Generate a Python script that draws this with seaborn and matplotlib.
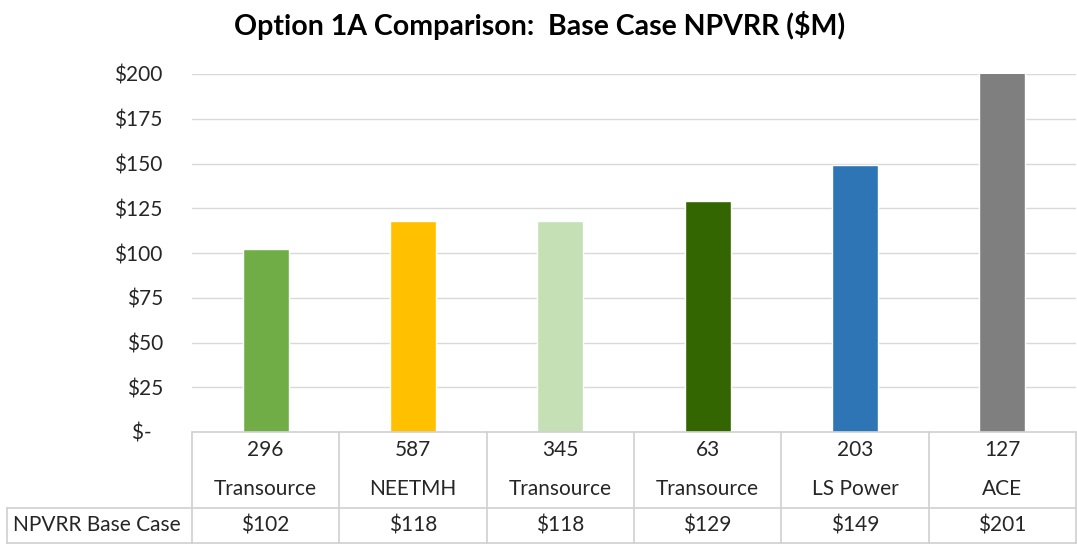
import matplotlib
matplotlib.use("Agg")
import matplotlib.pyplot as plt
import seaborn as sns
import pandas as pd

# values
options = ["296", "587", "345", "63", "203", "127"]
owners = ["Transource", "NEETMH", "Transource", "Transource", "LS Power", "ACE"]
npvrr = [102, 118, 118, 129, 149, 201]
bar_colors = ["#70AD47", "#FFC000", "#C5E0B4", "#336600", "#2E75B6", "#7F7F7F"]
yticks = [0, 25, 50, 75, 100, 125, 150, 175, 200]

df = pd.DataFrame({"label": [f"{o}\n{w}" for o, w in zip(options, owners)],
                   "npvrr": npvrr})

sns.set_theme(style="white")
plt.rcParams["font.family"] = ["Lato", "DejaVu Sans"]
txt = "#262626"
grid = "#D9D9D9"
fs = 15

fig = plt.figure(figsize=(10.77, 5.44), dpi=100)
W, H = 1077, 544
ax = fig.add_axes([192 / W, (H - 432) / H, (1076 - 192) / W, (432 - 74) / H])

sns.barplot(data=df, x="label", y="npvrr", hue="label", palette=bar_colors,
            legend=False, width=0.31, ax=ax, saturation=1)

ax.set_ylim(0, 200)
ax.set_xlim(-0.5, len(npvrr) - 0.5)
ax.set_yticks(yticks)
ax.set_yticklabels(["$-  " if v == 0 else f"${v}" for v in yticks], fontsize=fs, color=txt)
ax.tick_params(axis="y", length=0, pad=21)
ax.set_xticks([])
ax.set_xlabel("")
ax.set_ylabel("")
for v in yticks[1:]:
    ax.axhline(v, color=grid, lw=1, zorder=0)
for s in ax.spines.values():
    s.set_visible(False)

fig.text(540 / W, 1 - 26 / H, "Option 1A Comparison:  Base Case NPVRR ($M)",
         ha="center", va="center", fontsize=20.5, fontweight="bold", color="black")

# data table under the axis
ah = 432 - 74
def fy(py):
    return (432 - py) / ah

xt = ax.get_xaxis_transform()
lc = "#D0D0D0"
ax.plot([-0.5, 5.5], [0, 0], transform=xt, color=lc, lw=1.2, clip_on=False)
ax.plot([-0.5, 5.5], [fy(508), fy(508)], transform=xt, color=lc, lw=1.2, clip_on=False)
ax.plot([-0.5, 5.5], [fy(543), fy(543)], transform=xt, color=lc, lw=1.2, clip_on=False)
for i in range(len(npvrr) + 1):
    ax.plot([i - 0.5, i - 0.5], [0, fy(544)], transform=xt, color=lc, lw=1.2, clip_on=False)

# left part of the value row, in figure pixels
fig.add_artist(plt.Line2D([7 / W, 192 / W], [1 - 508 / H] * 2, color=lc, lw=1.2))
fig.add_artist(plt.Line2D([7 / W, 192 / W], [1 - 543 / H] * 2, color=lc, lw=1.2))
fig.add_artist(plt.Line2D([7 / W, 7 / W], [1 - 508 / H, 0], color=lc, lw=1.2))
fig.text(13 / W, 1 - 525 / H, "NPVRR Base Case", ha="left", va="center", fontsize=fs, color=txt)

for i, (o, w, v) in enumerate(zip(options, owners, npvrr)):
    ax.text(i, fy(450), o, transform=xt, ha="center", va="center", fontsize=fs, color=txt)
    ax.text(i, fy(489), w, transform=xt, ha="center", va="center", fontsize=fs, color=txt)
    ax.text(i, fy(525), f"${v}", transform=xt, ha="center", va="center", fontsize=fs, color=txt)

fig.savefig("out.png", dpi=100)
